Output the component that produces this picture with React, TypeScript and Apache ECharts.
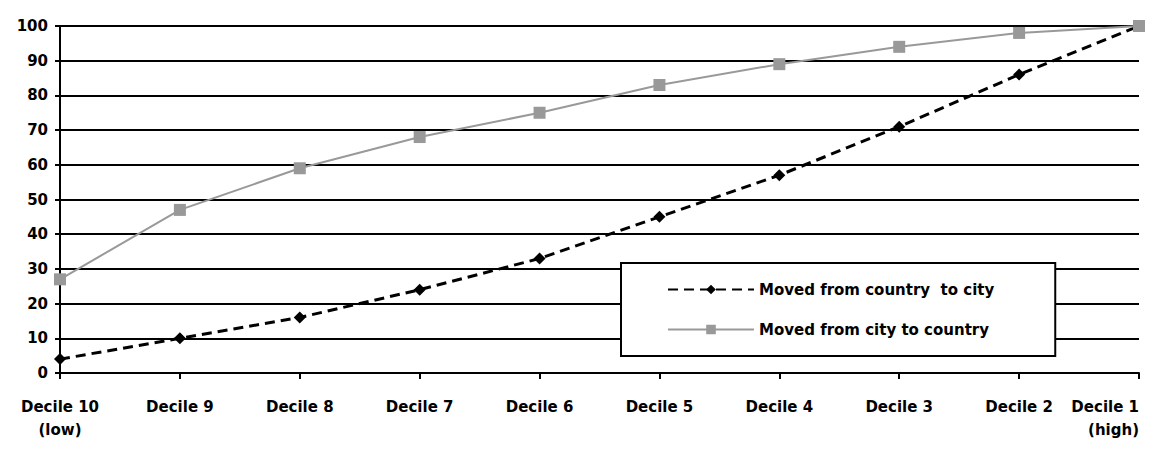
import React, { useEffect, useRef } from "react";
import * as echarts from "echarts";

const categories = [
  "Decile 10\n(low)",
  "Decile 9",
  "Decile 8",
  "Decile 7",
  "Decile 6",
  "Decile 5",
  "Decile 4",
  "Decile 3",
  "Decile 2",
  "Decile 1\n(high)",
];
const countryToCity = [4, 10, 16, 24, 33, 45, 57, 71, 86, 100];
const cityToCountry = [27, 47, 59, 68, 75, 83, 89, 94, 98, 100];
const yTicks = { min: 0, max: 100, interval: 10 };

const FONT = "DejaVu Sans";

export default function App() {
  const ref = useRef<HTMLDivElement>(null);
  useEffect(() => {
    if (!ref.current) return;
    const chart = echarts.init(ref.current, undefined, { renderer: "svg" });
    // the last category sits on the right edge, so its label is right-aligned to stay inside
    const categoryData = categories.map((c, i) =>
      i === categories.length - 1
        ? { value: c, textStyle: { align: "right" } }
        : c
    );
    chart.setOption({
      animation: false,
      backgroundColor: "#ffffff",
      grid: { left: 60, right: 30, top: 26, bottom: 76, outerBoundsMode: "none" },
      xAxis: {
        type: "category",
        data: categoryData,
        boundaryGap: false,
        axisLine: { lineStyle: { color: "#000", width: 2 } },
        axisTick: { show: true, length: 6, lineStyle: { color: "#000", width: 2 } },
        axisLabel: {
          interval: 0,
          margin: 22,
          color: "#000",
          fontFamily: FONT,
          fontWeight: "bold",
          fontSize: 15,
          lineHeight: 23,
        },
        splitLine: { show: false },
      },
      yAxis: {
        type: "value",
        min: yTicks.min,
        max: yTicks.max,
        interval: yTicks.interval,
        axisLine: { show: true, lineStyle: { color: "#000", width: 2 } },
        axisTick: { show: true, length: 5, lineStyle: { color: "#000", width: 2 } },
        axisLabel: {
          color: "#000",
          fontFamily: FONT,
          fontWeight: "bold",
          fontSize: 15,
          margin: 12,
        },
        splitLine: { show: true, lineStyle: { color: "#000", width: 2 } },
      },
      legend: {
        orient: "vertical",
        left: 621,
        top: 263,
        backgroundColor: "#fff",
        borderColor: "#000",
        borderWidth: 2,
        borderRadius: 0,
        padding: [19, 61, 19, 46],
        itemWidth: 86,
        itemHeight: 12,
        itemGap: 25,
        textStyle: {
          color: "#000",
          fontFamily: FONT,
          fontWeight: "bold",
          fontSize: 15,
        },
        data: ["Moved from country  to city", "Moved from city to country"],
      },
      series: [
        {
          name: "Moved from country  to city",
          type: "line",
          data: countryToCity,
          symbol: "diamond",
          symbolSize: 12,
          itemStyle: { color: "#000" },
          lineStyle: { color: "#000", width: 3, type: [10, 6] },
          z: 3,
        },
        {
          name: "Moved from city to country",
          type: "line",
          data: cityToCountry,
          symbol: "rect",
          symbolSize: 12,
          itemStyle: { color: "#999" },
          lineStyle: { color: "#999", width: 2, type: "solid" },
          z: 4,
        },
      ],
    });
    return () => chart.dispose();
  }, []);
  return (
    <div
      ref={ref}
      style={{ position: "fixed", left: 0, top: 0, width: 1169, height: 449, overflow: "hidden" }}
    />
  );
}
